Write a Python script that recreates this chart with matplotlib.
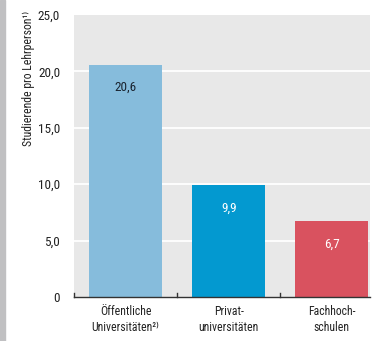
import matplotlib
matplotlib.use("Agg")
import matplotlib.pyplot as plt
from matplotlib.patches import Rectangle
from matplotlib import font_manager

categories = ["Öffentliche\nUniversitäten²⁾", "Privat-\nuniversitäten", "Fachhoch-\nschulen"]
values = [20.6, 9.9, 6.7]
value_labels = ["20,6", "9,9", "6,7"]
colors = ["#86bcdc", "#0399d0", "#d9525f"]
label_colors = ["#1a2430", "#ffffff", "#ffffff"]
yticks = [0, 5, 10, 15, 20, 25]
ytick_labels = ["0", "5,0", "10,0", "15,0", "20,0", "25,0"]
ylabel = "Studierende pro Lehrperson¹⁾"

names = {f.name for f in font_manager.fontManager.ttflist}
fam = []
for n in ["Roboto Condensed", "Liberation Sans Narrow", "DejaVu Sans Condensed"]:
    if n in names:
        fam.append(n)
fam.append("DejaVu Sans")
plt.rcParams['font.family'] = fam

fig = plt.figure(figsize=(3.75, 3.41), dpi=100)
fig.patches.append(Rectangle((0, 0), 4.5/375, 1, transform=fig.transFigure,
                             color="#c0c0c2", zorder=0))
ax = fig.add_axes([74/375, 1-297/341, 296/375, 282/341])
ax.set_facecolor("#e8e8e8")

x = list(range(len(values)))
ax.bar(x, values, width=0.705, color=colors, zorder=3)
for xi, v, lab, c in zip(x, values, value_labels, label_colors):
    ax.text(xi, v - 2.05, lab, ha="center", va="center", color=c, fontsize=9.5, zorder=4)

ax.set_xlim(-0.5, 2.37)
ax.set_ylim(0, 25)
ax.set_yticks(yticks)
ax.set_yticklabels(ytick_labels, fontsize=9.5, color="#222222")
ax.tick_params(axis="y", length=0, pad=10)
ax.set_xticks(x)
ax.set_xticklabels(categories, fontsize=8.5, color="#222222", linespacing=1.25)
ax.tick_params(axis="x", length=0, pad=6)
for yv in yticks[1:-1]:
    ax.axhline(yv, color="white", lw=1.3, zorder=1)
for s in ["top", "right", "left"]:
    ax.spines[s].set_visible(False)
ax.spines["bottom"].set_color("#333333")
ax.spines["bottom"].set_linewidth(1.0)
ax.spines["bottom"].set_zorder(5)
for tx in [-0.5, 0.5, 1.5]:
    ax.plot([tx, tx], [0, 0.35], color="#333333", lw=1.0, zorder=5, clip_on=False)

ax.set_ylabel(ylabel, fontsize=8.5, color="#222222", loc="top")
ax.yaxis.set_label_coords(-39/296, 1.015)

fig.savefig("out.png", dpi=100)
